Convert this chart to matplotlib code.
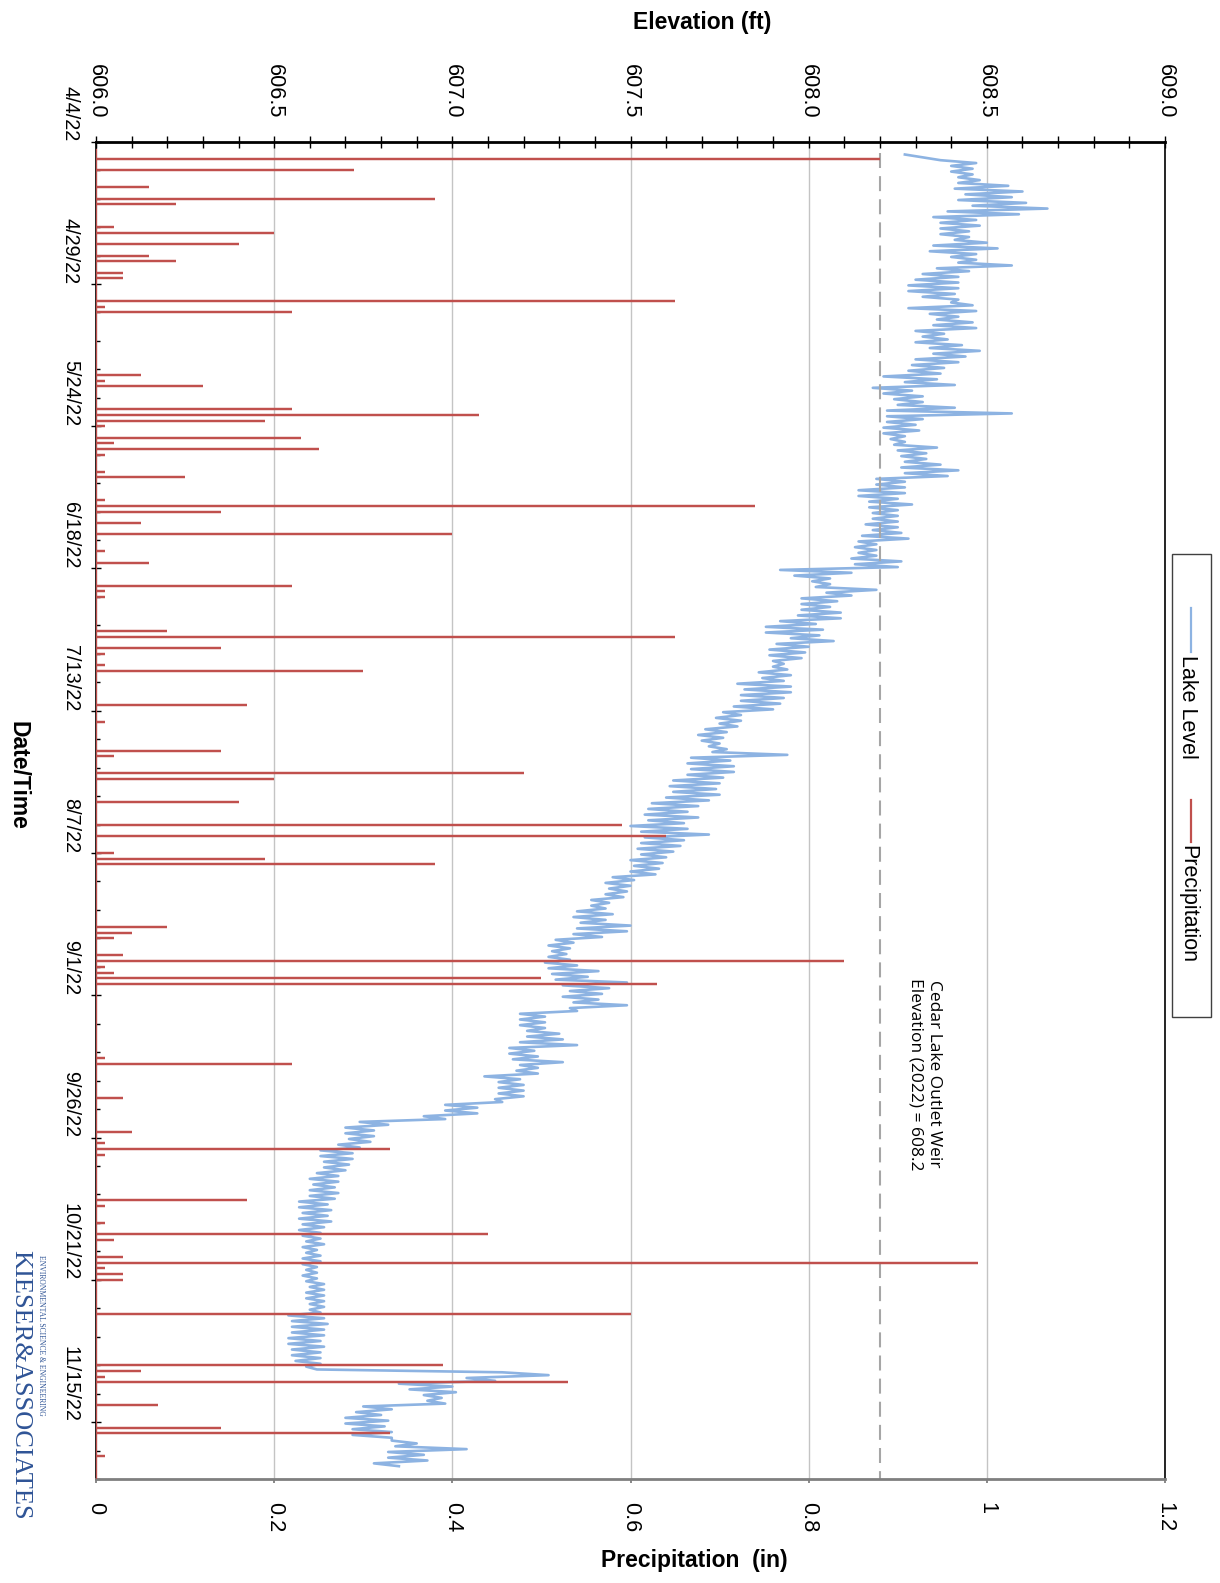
import datetime as dt
import matplotlib
matplotlib.use("Agg")
import matplotlib.pyplot as plt
import matplotlib.dates as mdates
from matplotlib import font_manager
from matplotlib.lines import Line2D
from matplotlib.patches import Rectangle
from matplotlib.ticker import FixedLocator, MultipleLocator, FormatStrFormatter

W, H = 1220, 1583
START = dt.datetime(2022, 4, 4)
N_DAYS = 235

# precipitation: day offset from 4/4/22 and daily total (in)
rain_day = [3, 5, 8, 10, 11, 15, 16, 18, 20, 21, 23, 24, 28, 29, 30,
            41, 42, 43, 47, 48, 49, 50, 52, 53, 54, 55, 58, 59, 63, 64,
            65, 67, 69, 72, 74, 78, 79, 80, 86, 87, 89, 90, 92, 93, 99,
            102, 107, 108, 111, 112, 116, 120, 122, 125, 126, 127, 138, 139, 140, 143,
            144, 145, 146, 147, 148, 161, 162, 168, 174, 176, 177, 178, 186, 187, 190,
            192, 193, 196, 197, 198, 199, 200, 206, 215, 216, 217, 218, 222, 226, 227,
            231]
rain_in = [0.88, 0.29, 0.06, 0.38, 0.09, 0.02, 0.20, 0.16, 0.06, 0.09, 0.03, 0.03, 0.65, 0.01, 0.22,
           0.05, 0.01, 0.12, 0.22, 0.43, 0.19, 0.01, 0.23, 0.02, 0.25, 0.01, 0.01, 0.10, 0.01, 0.74,
           0.14, 0.05, 0.40, 0.01, 0.06, 0.22, 0.01, 0.01, 0.08, 0.65, 0.14, 0.01, 0.01, 0.30, 0.17,
           0.01, 0.14, 0.02, 0.48, 0.20, 0.16, 0.59, 0.64, 0.02, 0.19, 0.38, 0.08, 0.04, 0.02, 0.03,
           0.84, 0.01, 0.02, 0.50, 0.63, 0.01, 0.22, 0.03, 0.04, 0.01, 0.33, 0.01, 0.17, 0.01, 0.01,
           0.44, 0.02, 0.03, 0.99, 0.01, 0.03, 0.03, 0.60, 0.39, 0.05, 0.01, 0.53, 0.07, 0.14, 0.33,
           0.01]

# lake level: daily low / high (ft), days 2 .. 232 after 4/4/22
LAKE_FIRST_DAY = 2
lake_low = [608.27, 608.37, 608.40, 608.40, 608.42, 608.42, 608.41, 608.44, 608.42, 608.46,
            608.39, 608.35, 608.37, 608.37, 608.37, 608.41, 608.35, 608.34, 608.40, 608.42,
            608.36, 608.32, 608.30, 608.28, 608.28, 608.32, 608.40, 608.28, 608.34, 608.36,
            608.35, 608.30, 608.32, 608.30, 608.34, 608.35, 608.30, 608.29, 608.28, 608.21,
            608.27, 608.18, 608.21, 608.24, 608.25, 608.22, 608.22, 608.22, 608.21, 608.21,
            608.23, 608.24, 608.25, 608.26, 608.27, 608.26, 608.27, 608.19, 608.19, 608.14,
            608.14, 608.17, 608.17, 608.18, 608.18, 608.16, 608.18, 608.15, 608.14, 608.13,
            608.14, 608.12, 608.13, 607.92, 607.96, 608.01, 608.02, 608.05, 607.98, 607.98,
            607.98, 607.97, 607.92, 607.88, 607.88, 607.95, 607.91, 607.89, 607.89, 607.90,
            607.90, 607.86, 607.87, 607.80, 607.82, 607.81, 607.81, 607.79, 607.76, 607.74,
            607.75, 607.71, 607.69, 607.70, 607.72, 607.73, 607.67, 607.66, 607.67, 607.66,
            607.62, 607.61, 607.62, 607.60, 607.56, 607.55, 607.54, 607.55, 607.50, 607.53,
            607.54, 607.53, 607.52, 607.53, 607.50, 607.51, 607.50, 607.45, 607.43, 607.44,
            607.43, 607.39, 607.39, 607.35, 607.34, 607.36, 607.35, 607.34, 607.29, 607.27,
            607.28, 607.27, 607.26, 607.27, 607.28, 607.29, 607.31, 607.33, 607.31, 607.34,
            607.33, 607.19, 607.19, 607.19, 607.21, 607.21, 607.19, 607.16, 607.16, 607.17,
            607.19, 607.18, 607.09, 607.13, 607.13, 607.13, 607.12, 606.98, 606.98, 606.92,
            606.74, 606.70, 606.70, 606.71, 606.68, 606.63, 606.63, 606.64, 606.64, 606.62,
            606.60, 606.61, 606.60, 606.60, 606.57, 606.57, 606.58, 606.57, 606.58, 606.57,
            606.58, 606.59, 606.58, 606.59, 606.58, 606.58, 606.59, 606.58, 606.59, 606.60,
            606.59, 606.59, 606.60, 606.60, 606.54, 606.55, 606.55, 606.55, 606.54, 606.54,
            606.55, 606.55, 606.56, 606.59, 607.14, 607.04, 606.85, 606.88, 606.92, 606.93,
            606.75, 606.73, 606.70, 606.70, 606.72, 606.72, 606.83, 606.84, 606.82, 606.82,
            606.78]
lake_high = [608.32, 608.47, 608.46, 608.46, 608.48, 608.56, 608.60, 608.57, 608.61, 608.67,
             608.59, 608.47, 608.48, 608.45, 608.45, 608.50, 608.53, 608.47, 608.47, 608.57,
             608.45, 608.42, 608.42, 608.42, 608.41, 608.42, 608.46, 608.47, 608.42, 608.46,
             608.47, 608.38, 608.39, 608.43, 608.48, 608.44, 608.42, 608.38, 608.37, 608.36,
             608.41, 608.29, 608.32, 608.32, 608.41, 608.57, 608.32, 608.30, 608.31, 608.27,
             608.27, 608.36, 608.33, 608.33, 608.37, 608.42, 608.39, 608.27, 608.27, 608.27,
             608.25, 608.29, 608.25, 608.25, 608.25, 608.25, 608.26, 608.28, 608.19, 608.19,
             608.19, 608.26, 608.25, 608.12, 608.06, 608.06, 608.19, 608.12, 608.08, 608.06,
             608.09, 608.09, 608.02, 608.04, 608.03, 608.07, 608.00, 607.99, 607.98, 607.93,
             607.94, 607.95, 607.93, 607.95, 607.95, 607.93, 607.92, 607.90, 607.81, 607.81,
             607.80, 607.77, 607.76, 607.75, 607.77, 607.94, 607.78, 607.79, 607.79, 607.76,
             607.75, 607.74, 607.75, 607.72, 607.69, 607.66, 607.69, 607.65, 607.66, 607.72,
             607.65, 607.64, 607.62, 607.60, 607.59, 607.58, 607.57, 607.51, 607.50, 607.49,
             607.48, 607.44, 607.43, 607.45, 607.43, 607.50, 607.49, 607.42, 607.34, 607.33,
             607.32, 607.33, 607.35, 607.41, 607.38, 607.49, 607.44, 607.42, 607.41, 607.49,
             607.35, 607.26, 607.26, 607.26, 607.30, 607.31, 607.35, 607.23, 607.24, 607.31,
             607.24, 607.24, 607.19, 607.20, 607.20, 607.20, 607.14, 607.07, 607.07, 606.98,
             606.82, 606.78, 606.78, 606.77, 606.74, 606.72, 606.72, 606.71, 606.70, 606.68,
             606.68, 606.67, 606.68, 606.67, 606.65, 606.66, 606.65, 606.66, 606.64, 606.63,
             606.63, 606.64, 606.62, 606.63, 606.63, 606.62, 606.62, 606.62, 606.64, 606.64,
             606.64, 606.64, 606.64, 606.63, 606.64, 606.65, 606.64, 606.64, 606.63, 606.64,
             606.63, 606.63, 606.63, 606.62, 607.27, 607.12, 607.00, 607.01, 606.97, 606.98,
             606.83, 606.80, 606.82, 606.81, 606.83, 606.83, 606.90, 607.04, 606.92, 606.93,
             606.85]

WEIR_ELEV = 608.2
date_labels = ["4/4/22", "4/29/22", "5/24/22", "6/18/22", "7/13/22",
               "8/7/22", "9/1/22", "9/26/22", "10/21/22", "11/15/22"]
elev_ticks = [606.0, 606.5, 607.0, 607.5, 608.0, 608.5, 609.0]
precip_ticks = [0, 0.2, 0.4, 0.6, 0.8, 1.0, 1.2]
precip_labels = ["0", "0.2", "0.4", "0.6", "0.8", "1", "1.2"]

BLUE = "#8db3e2"
RED = "#c0504d"
GRID = "#c4c4c4"
DASH = "#a6a6a6"
LOGO = "#2f5496"

names = {f.name for f in font_manager.fontManager.ttflist}
NARROW = "Liberation Sans Narrow" in names
TICKFONT = "Liberation Sans Narrow" if NARROW else "Liberation Sans"
TICK_SZ = 19.0 if NARROW else 15.7
DATE_SZ = 17.5 if NARROW else 14.3
plt.rcParams["font.family"] = ["Liberation Sans", "DejaVu Sans"]


def day(d):
    return mdates.date2num(START + dt.timedelta(days=d))


def fx(px):
    return px / W


def fy(py):
    return 1 - py / H


fig = plt.figure(figsize=(W / 100, H / 100), dpi=100)
left, right, top, bottom = 96, 1165, 141.7, 1479
ax = fig.add_axes([fx(left), fy(bottom), fx(right - left), (bottom - top) / H])
ax2 = ax.twiny()
ax.set_zorder(ax2.get_zorder() + 1)
ax.patch.set_visible(False)
ax2.patch.set_facecolor("white")

# precipitation spikes drawn as one line, like the spreadsheet series
px_, py_ = [0], [day(1.5)]
for d, v in zip(rain_day, rain_in):
    px_ += [0, v, 0]
    py_ += [day(d)] * 3
px_.append(0)
py_.append(day(N_DAYS))
ax.plot(px_, py_, color=RED, lw=1.6, solid_joinstyle="miter", zorder=3)

# lake level: daily low then high
lx, ly = [], []
for i, (lo, hi) in enumerate(zip(lake_low, lake_high)):
    d = LAKE_FIRST_DAY + i
    lx += [lo, hi]
    ly += [day(d + 0.25), day(d + 0.75)]
ax2.plot(lx, ly, color=BLUE, lw=1.9, zorder=2)
ax2.plot([WEIR_ELEV, WEIR_ELEV], [day(2), day(N_DAYS)], color=DASH, lw=1.5,
         dashes=(7.2, 3.9), zorder=3)

ax.set_xlim(0, 1.2)
ax2.set_xlim(606.0, 609.0)
ax.set_ylim(day(N_DAYS), day(0))

# gridlines (same positions on both scales)
ax2.xaxis.set_major_locator(FixedLocator(elev_ticks))
ax2.xaxis.set_minor_locator(MultipleLocator(0.1))
ax2.grid(axis="x", which="major", color=GRID, lw=1.0, zorder=0)
ax2.xaxis.set_major_formatter(FormatStrFormatter("%.1f"))
ax2.tick_params(axis="x", which="both", direction="inout", top=True, bottom=False,
                labeltop=True, labelbottom=False, length=8.6, width=1.0, color="black",
                pad=12.5)
for lab in ax2.get_xticklabels():
    lab.set_rotation(270)
    lab.set_fontfamily(TICKFONT)
    lab.set_fontsize(TICK_SZ)
ax2.yaxis.set_visible(False)

ax.set_xticks(precip_ticks)
ax.set_xticklabels(precip_labels, rotation=270, fontfamily=TICKFONT, fontsize=TICK_SZ)
ax.tick_params(axis="x", direction="out", length=3.2, width=1.3, color="#7f7f7f", pad=13)

ax.set_yticks([day(25 * i) for i in range(len(date_labels))])
ax.set_yticks([day(5 * i) for i in range(N_DAYS // 5 + 1)], minor=True)
ax.set_yticklabels(date_labels, rotation=270, va="bottom", ha="right",
                   fontfamily=TICKFONT, fontsize=DATE_SZ)
ax.tick_params(axis="y", which="major", direction="inout", length=7.2, width=1.0, pad=8)
ax.tick_params(axis="y", which="minor", direction="in", length=3.2, width=1.0)

for s in ("top", "bottom", "left", "right"):
    ax2.spines[s].set_visible(False)
ax2.spines["top"].set_visible(True)
ax2.spines["top"].set_linewidth(2.0)
ax.spines["top"].set_visible(False)
ax.spines["left"].set_linewidth(1.2)
ax.spines["right"].set_linewidth(1.2)
ax.spines["bottom"].set_color("#7f7f7f")
ax.spines["bottom"].set_linewidth(2.0)

# axis titles
fig.text(fx(702), fy(22), "Elevation (ft)", ha="center", va="center",
         fontsize=16.5, fontweight="bold")
fig.text(fx(694), fy(1560), "Precipitation  (in)", ha="center", va="center",
         fontsize=16.5, fontweight="bold")
fig.text(fx(18), fy(775), "Date/Time", ha="center", va="center", rotation=270,
         fontsize=16.5, fontweight="bold")

# weir note
fig.text(fx(925), fy(978), "Cedar Lake Outlet Weir\nElevation (2022) = 608.2",
         ha="center", va="top", rotation=270, fontsize=12.5,
         family=["Open Sans", "DejaVu Sans"], linespacing=1.25)

# legend box, drawn by hand so it can be turned with the chart
fig.patches.append(Rectangle((fx(1172), fy(1017)), fx(39), (1017 - 554) / H,
                             transform=fig.transFigure, facecolor="white",
                             edgecolor="#404040", lw=1.0))
fig.lines.append(Line2D([fx(1190.5)] * 2, [fy(608), fy(652)], transform=fig.transFigure,
                        color=BLUE, lw=1.6))
fig.text(fx(1188), fy(655), "Lake Level", rotation=270, ha="center", va="top", fontsize=15.5)
fig.lines.append(Line2D([fx(1190.5)] * 2, [fy(800), fy(842)], transform=fig.transFigure,
                        color=RED, lw=1.6))
fig.text(fx(1188), fy(845), "Precipitation", rotation=270, ha="center", va="top", fontsize=15.5)

# company mark
fig.text(fx(20), fy(1250), "KIESER&ASSOCIATES", rotation=270, ha="center", va="top",
         fontsize=19, color=LOGO, family=["Liberation Serif", "DejaVu Serif"])
fig.text(fx(41), fy(1255), "ENVIRONMENTAL SCIENCE & ENGINEERING", rotation=270,
         ha="center", va="top", fontsize=5.5, color=LOGO,
         family=["Liberation Serif", "DejaVu Serif"])

fig.savefig("out.png", dpi=100, facecolor="white")
